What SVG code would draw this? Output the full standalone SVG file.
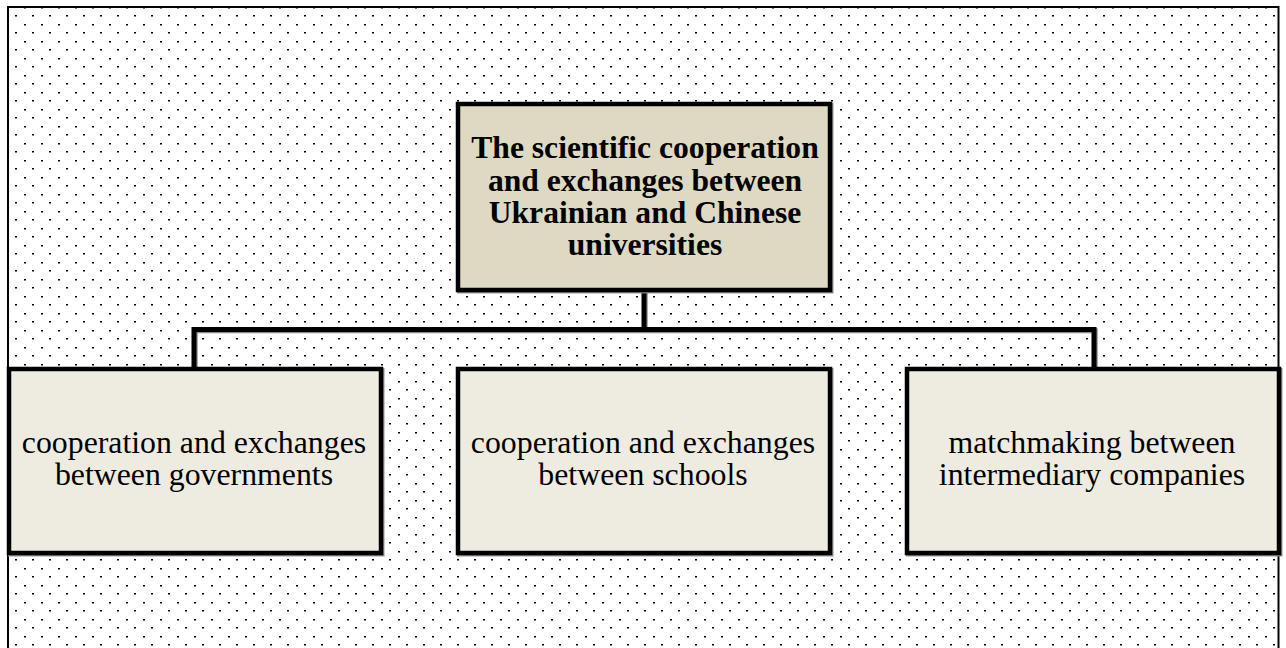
<svg xmlns="http://www.w3.org/2000/svg" width="1286" height="648" viewBox="0 0 1286 648">
  <defs>
    <!-- dotted background fill -->
    <pattern id="dots" patternUnits="userSpaceOnUse" x="0" y="0" width="17" height="17">
      <rect x="15" y="15" width="2" height="1.5" fill="#000"/>
      <rect x="7" y="7" width="2" height="1.5" fill="#000"/>
    </pattern>
  </defs>
  <style>
    .frame { fill: url(#dots); stroke: #000; stroke-width: 2; }
    .shadow { fill: none; stroke: #8a8a8a; stroke-width: 4.5; }
    .box { stroke: #000; stroke-width: 4.5; }
    .root { fill: #DDD9C3; }
    .leaf { fill: #EEECE1; }
    .link { fill: none; stroke: #000; stroke-width: 5; stroke-linejoin: miter; }
    .link-shadow { fill: none; stroke: #8a8a8a; stroke-width: 5; }
    .title { font-family: "Liberation Serif", "Times New Roman", serif; font-weight: bold; font-size: 31.6px; fill: #000; text-anchor: middle; }
    .label { font-family: "Liberation Serif", "Times New Roman", serif; font-size: 31.8px; fill: #000; text-anchor: middle; }
  </style>

  <rect width="1286" height="648" fill="#fff"/>
  <rect class="frame" x="8" y="7" width="1270.5" height="660"/>

  <g id="connectors">
    <path class="link-shadow" d="M645.2 291 V330.7 M195.2 369 V330.7 H1095.2 V369"/>
    <path class="link" d="M644 291 V329.5 M194 369 V329.5 H1094 V369"/>
  </g>

  <g id="root">
    <rect class="shadow" x="459.2" y="105.2" width="372" height="186"/>
    <rect class="box root" x="458" y="104" width="372" height="186"/>
    <text class="title" x="645" y="158">The scientific cooperation</text>
    <text class="title" x="645" y="190.5">and exchanges between</text>
    <text class="title" x="645" y="222.5">Ukrainian and Chinese</text>
    <text class="title" x="645" y="254.5">universities</text>
  </g>

  <g id="governments">
    <rect class="shadow" x="10.2" y="370.2" width="372" height="184"/>
    <rect class="box leaf" x="9" y="369" width="372" height="184"/>
    <text class="label" x="194" y="453">cooperation and exchanges</text>
    <text class="label" x="194" y="485">between governments</text>
  </g>

  <g id="schools">
    <rect class="shadow" x="459.2" y="370.2" width="372" height="184"/>
    <rect class="box leaf" x="458" y="369" width="372" height="184"/>
    <text class="label" x="643" y="453">cooperation and exchanges</text>
    <text class="label" x="643" y="485">between schools</text>
  </g>

  <g id="intermediaries">
    <rect class="shadow" x="908.2" y="370.2" width="372" height="184"/>
    <rect class="box leaf" x="907" y="369" width="372" height="184"/>
    <text class="label" x="1092" y="453">matchmaking between</text>
    <text class="label" x="1092" y="485">intermediary companies</text>
  </g>
</svg>
